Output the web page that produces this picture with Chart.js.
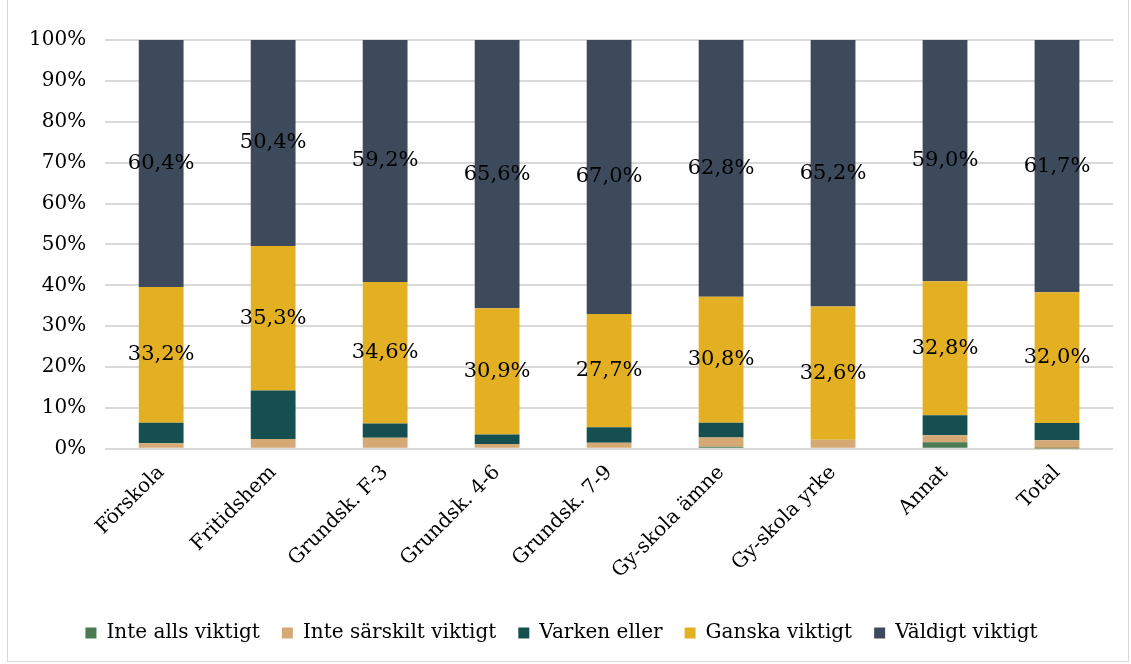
<!DOCTYPE html>
<html>
<head>
<meta charset="utf-8">
<script src="https://cdn.jsdelivr.net/npm/chart.js@4/dist/chart.umd.min.js"></script>
<style>
  html, body { margin: 0; padding: 0; background: #fff; }
  #wrap { position: absolute; left: 7px; top: 0; width: 1122px; height: 662px; border: 1px solid #d9d9d9; border-top: none; box-sizing: border-box; }
  canvas { display: block; }
</style>
</head>
<body>
<div id="wrap"><canvas id="chart"></canvas></div>
<script>
const categories = ["Förskola", "Fritidshem", "Grundsk. F-3", "Grundsk. 4-6", "Grundsk. 7-9", "Gy-skola ämne", "Gy-skola yrke", "Annat", "Total"];
const inteAlls = [0.0, 0.0, 0.0, 0.0, 0.0, 0.5, 0.0, 1.6, 0.1];
const inteSarskilt = [1.4, 2.4, 2.7, 1.2, 1.5, 2.3, 2.2, 1.7, 2.0];
const varkenEller = [5.0, 11.9, 3.5, 2.3, 3.8, 3.6, 0.0, 4.9, 4.2];
const ganska = [33.2, 35.3, 34.6, 30.9, 27.7, 30.8, 32.6, 32.8, 32.0];
const valdigt = [60.4, 50.4, 59.2, 65.6, 67.0, 62.8, 65.2, 59.0, 61.7];
const yTicks = [0, 10, 20, 30, 40, 50, 60, 70, 80, 90, 100];

const fontFamily = "Georgia, 'DejaVu Serif', serif";

// labels in the middle of the two big segments
const segmentLabels = {
    id: 'segmentLabels',
    afterDatasetsDraw(chart) {
        const ctx = chart.ctx;
        ctx.save();
        ctx.font = "21px " + fontFamily;
        ctx.fillStyle = "#000";
        ctx.textAlign = "center";
        ctx.textBaseline = "middle";
        chart.data.datasets.forEach((ds, i) => {
            if (!ds.showLabels) return;
            chart.getDatasetMeta(i).data.forEach((bar, j) => {
                const mid = (bar.y + bar.base) / 2;
                ctx.fillText(ds.data[j].toFixed(1).replace('.', ',') + '%', bar.x, mid);
            });
        });
        ctx.restore();
    }
};

const ctx = document.getElementById('chart').getContext('2d');
new Chart(ctx, {
    type: 'bar',
    data: {
        labels: categories,
        datasets: [
            { label: 'Inte alls viktigt', data: inteAlls, backgroundColor: '#4a7b52' },
            { label: 'Inte särskilt viktigt', data: inteSarskilt, backgroundColor: '#d4a974' },
            { label: 'Varken eller', data: varkenEller, backgroundColor: '#164f50' },
            { label: 'Ganska viktigt', data: ganska, backgroundColor: '#e3b024', showLabels: true },
            { label: 'Väldigt viktigt', data: valdigt, backgroundColor: '#3d4a5c', showLabels: true }
        ]
    },
    options: {
        responsive: true,
        maintainAspectRatio: false,
        animation: false,
        datasets: { bar: { barPercentage: 0.4, categoryPercentage: 1.0, borderWidth: 0 } },
        layout: { padding: { top: 40, right: 15, left: 2, bottom: 8 } },
        plugins: {
            tooltip: { enabled: false },
            legend: {
                position: 'bottom',
                labels: {
                    font: { family: fontFamily, size: 20 },
                    color: '#000',
                    boxWidth: 11,
                    boxHeight: 11,
                    padding: 22
                }
            }
        },
        scales: {
            x: {
                stacked: true,
                grid: { display: false },
                border: { display: false },
                ticks: {
                    font: { family: fontFamily, size: 20 },
                    color: '#000',
                    maxRotation: 45,
                    minRotation: 45,
                    padding: 4
                },
                afterFit(scale) {
                    scale.paddingRight = 0;
                    scale.height += 14;
                }
            },
            y: {
                stacked: true,
                min: 0,
                max: 100,
                afterBuildTicks(axis) { axis.ticks = yTicks.map(v => ({ value: v })); },
                grid: { color: '#d9d9d9', lineWidth: 2, drawTicks: false },
                border: { display: false },
                ticks: {
                    font: { family: fontFamily, size: 20 },
                    color: '#000',
                    padding: 19,
                    callback: (v) => v + '%'
                }
            }
        }
    },
    plugins: [segmentLabels]
});
</script>
</body>
</html>
